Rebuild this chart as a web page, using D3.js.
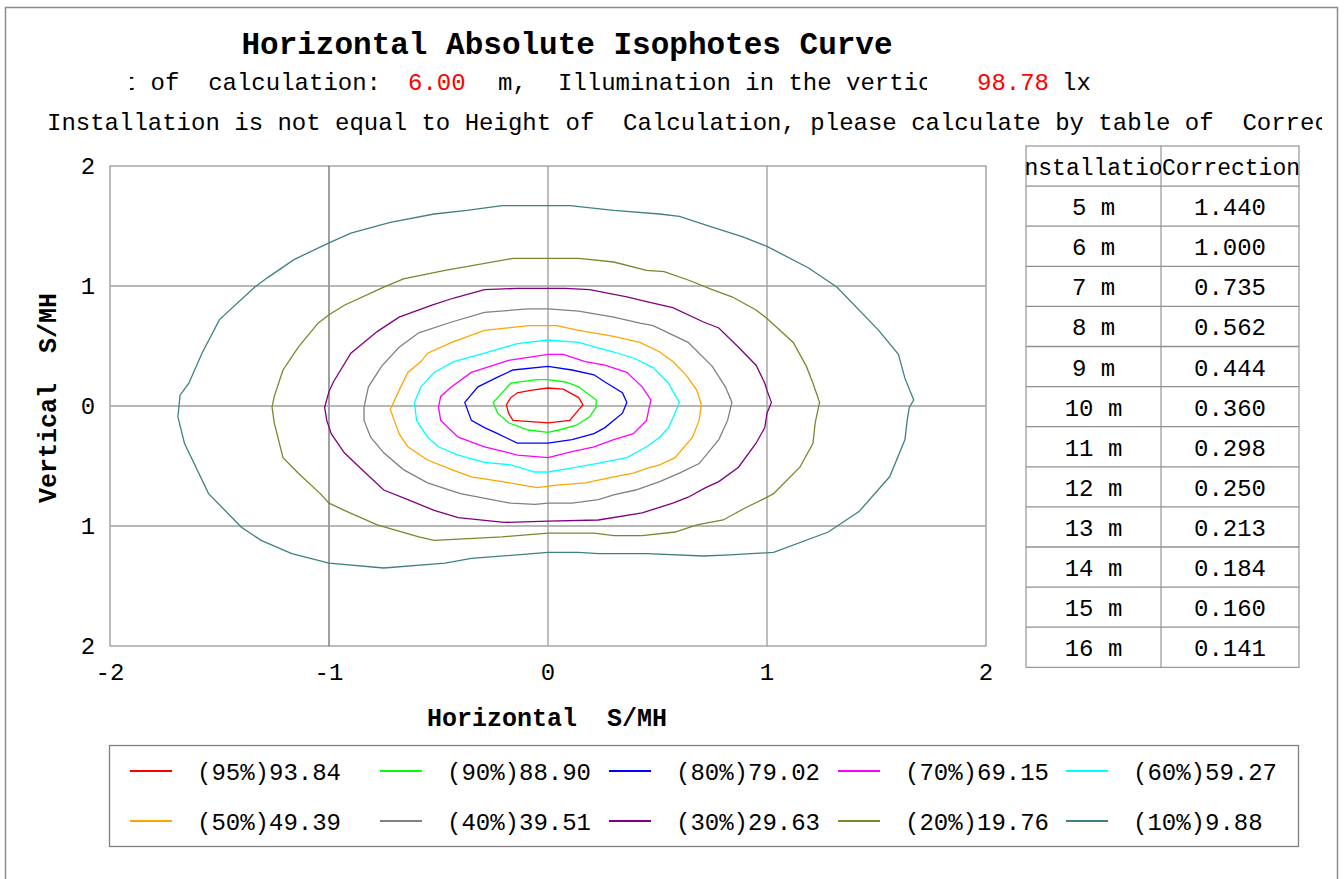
<html>
<head>
<meta charset="utf-8">
<title>Horizontal Absolute Isophotes Curve</title>
<script src="https://cdn.jsdelivr.net/npm/d3@7"></script>
<style>
  * { margin: 0; padding: 0; }
  body { background: #fff; }
  text { font-family: "Liberation Mono", "DejaVu Sans Mono", monospace; fill: #000; }
</style>
</head>
<body>
<svg id="viz"></svg>
<script>
// ---- data ----
var levels = ["(95%)93.84", "(90%)88.90", "(80%)79.02", "(70%)69.15", "(60%)59.27",
              "(50%)49.39", "(40%)39.51", "(30%)29.63", "(20%)19.76", "(10%)9.88"];
var colors = ["#ff0000", "#00ff00", "#0000ff", "#ff00ff", "#00ffff",
              "#ffa500", "#808080", "#800080", "#748a2c", "#408080"];

// contour points [x, y] in S/MH units
var c95 = [[-0.19,0.01],[-0.17,0.07],[-0.14,0.11],[-0.08,0.13],[0,0.15],[0.07,0.14],[0.14,0.07],
  [0.16,0.01],[0.14,-0.03],[0.10,-0.12],[0,-0.14],[-0.08,-0.13],[-0.16,-0.12],[-0.18,-0.06]];
var c90 = [[-0.25,0.03],[-0.20,0.13],[-0.17,0.19],[-0.05,0.22],[0,0.22],[0.08,0.20],[0.14,0.16],
  [0.22,0.05],[0.22,-0.01],[0.19,-0.09],[0.13,-0.16],[0.05,-0.20],[0,-0.22],[-0.09,-0.20],
  [-0.18,-0.14],[-0.23,-0.06]];
var c80 = [[-0.38,0.03],[-0.32,0.16],[-0.23,0.24],[-0.16,0.30],[0,0.33],[0.11,0.30],[0.21,0.26],
  [0.26,0.20],[0.34,0.11],[0.36,0.03],[0.34,-0.06],[0.26,-0.18],[0.21,-0.23],[0.11,-0.28],
  [0,-0.31],[-0.14,-0.31],[-0.23,-0.23],[-0.29,-0.18],[-0.35,-0.12]];
var c70 = [[-0.50,-0.01],[-0.49,0.08],[-0.44,0.16],[-0.35,0.28],[-0.18,0.38],[0,0.43],[0.07,0.43],
  [0.17,0.37],[0.26,0.34],[0.36,0.28],[0.43,0.16],[0.47,0.05],[0.46,-0.03],[0.45,-0.12],
  [0.39,-0.23],[0.30,-0.28],[0.21,-0.34],[0.11,-0.38],[0,-0.43],[-0.14,-0.41],[-0.20,-0.38],
  [-0.29,-0.34],[-0.41,-0.26],[-0.49,-0.12]];
var c60 = [[-0.61,0.03],[-0.58,0.16],[-0.52,0.28],[-0.43,0.37],[-0.29,0.44],[-0.14,0.52],[0,0.55],
  [0.14,0.53],[0.30,0.45],[0.39,0.40],[0.48,0.32],[0.55,0.19],[0.60,0.03],[0.58,-0.06],
  [0.55,-0.18],[0.51,-0.26],[0.45,-0.34],[0.36,-0.43],[0.22,-0.48],[0.10,-0.52],[0,-0.55],
  [-0.06,-0.55],[-0.17,-0.49],[-0.29,-0.47],[-0.41,-0.41],[-0.50,-0.34],[-0.55,-0.26],[-0.60,-0.12]];
var c50 = [[-0.72,-0.03],[-0.68,0.13],[-0.64,0.28],[-0.58,0.37],[-0.55,0.44],[-0.44,0.53],
  [-0.29,0.63],[-0.09,0.67],[0.04,0.67],[0.14,0.63],[0.30,0.58],[0.42,0.53],[0.51,0.45],
  [0.57,0.37],[0.63,0.26],[0.68,0.13],[0.70,0.01],[0.69,-0.12],[0.66,-0.26],[0.58,-0.43],
  [0.51,-0.49],[0.45,-0.52],[0.39,-0.56],[0.30,-0.59],[0.17,-0.64],[0.04,-0.66],[-0.05,-0.68],
  [-0.21,-0.63],[-0.35,-0.59],[-0.44,-0.53],[-0.55,-0.45],[-0.64,-0.34],[-0.68,-0.23]];
var c40 = [[-0.84,-0.01],[-0.82,0.16],[-0.76,0.33],[-0.68,0.49],[-0.59,0.61],[-0.44,0.70],
  [-0.29,0.78],[-0.09,0.81],[0,0.81],[0.14,0.79],[0.30,0.74],[0.42,0.69],[0.48,0.67],
  [0.64,0.53],[0.75,0.33],[0.81,0.16],[0.84,0.03],[0.82,-0.12],[0.78,-0.28],[0.69,-0.48],
  [0.60,-0.56],[0.51,-0.63],[0.40,-0.70],[0.30,-0.74],[0.23,-0.78],[0.11,-0.81],[0,-0.81],
  [-0.06,-0.82],[-0.17,-0.81],[-0.40,-0.73],[-0.55,-0.64],[-0.66,-0.53],[-0.75,-0.39],
  [-0.81,-0.26],[-0.84,-0.12]];
var c30 = [[-1.02,-0.01],[-1.00,0.12],[-0.98,0.20],[-0.90,0.44],[-0.78,0.62],[-0.68,0.74],
  [-0.53,0.84],[-0.43,0.90],[-0.29,0.97],[-0.14,0.98],[0,0.98],[0.08,0.98],[0.19,0.97],
  [0.36,0.91],[0.45,0.87],[0.57,0.82],[0.71,0.70],[0.78,0.65],[0.87,0.49],[0.95,0.34],
  [0.99,0.19],[1.00,0.13],[1.02,0.03],[1.00,-0.06],[0.99,-0.18],[0.95,-0.31],[0.87,-0.51],
  [0.78,-0.63],[0.72,-0.68],[0.64,-0.76],[0.57,-0.81],[0.43,-0.89],[0.23,-0.95],[0,-0.96],
  [-0.20,-0.97],[-0.41,-0.93],[-0.52,-0.87],[-0.64,-0.78],[-0.75,-0.70],[-0.85,-0.53],
  [-0.93,-0.39],[-0.99,-0.23],[-1.01,-0.12]];
var c20 = [[-1.25,0.08],[-1.21,0.30],[-1.14,0.49],[-1.05,0.69],[-1.00,0.76],[-0.93,0.84],
  [-0.75,0.99],[-0.66,1.06],[-0.47,1.13],[-0.16,1.23],[0,1.23],[0.14,1.23],[0.30,1.20],
  [0.45,1.13],[0.53,1.12],[0.64,1.05],[0.75,0.97],[0.84,0.91],[0.95,0.80],[1.00,0.73],
  [1.12,0.53],[1.18,0.33],[1.21,0.19],[1.24,0.03],[1.22,-0.14],[1.21,-0.31],[1.15,-0.51],
  [1.03,-0.73],[1.00,-0.76],[0.90,-0.85],[0.80,-0.95],[0.68,-0.99],[0.58,-1.05],[0.43,-1.08],
  [0.30,-1.08],[0.21,-1.06],[0,-1.06],[-0.21,-1.09],[-0.52,-1.12],[-0.59,-1.09],[-0.78,-0.99],
  [-0.93,-0.87],[-1.00,-0.81],[-1.04,-0.73],[-1.14,-0.56],[-1.21,-0.43],[-1.25,-0.14],[-1.26,-0.01]];
var c10 = [[-1.69,-0.09],[-1.68,0.09],[-1.64,0.19],[-1.58,0.44],[-1.50,0.72],[-1.34,0.99],
  [-1.28,1.07],[-1.16,1.22],[-1.00,1.36],[-0.90,1.44],[-0.72,1.53],[-0.52,1.60],[-0.37,1.63],
  [-0.21,1.67],[0,1.67],[0.10,1.67],[0.30,1.63],[0.51,1.60],[0.60,1.58],[0.75,1.49],[0.89,1.41],
  [1.00,1.33],[1.19,1.15],[1.32,0.99],[1.51,0.63],[1.60,0.43],[1.63,0.23],[1.67,0.05],
  [1.65,-0.01],[1.64,-0.12],[1.63,-0.28],[1.56,-0.59],[1.42,-0.88],[1.28,-1.05],[1.03,-1.22],
  [0.83,-1.24],[0.71,-1.25],[0.45,-1.23],[0.23,-1.23],[0.14,-1.22],[0,-1.22],[-0.35,-1.27],
  [-0.47,-1.31],[-0.75,-1.35],[-1.00,-1.31],[-1.17,-1.23],[-1.31,-1.12],[-1.40,-1.01],
  [-1.55,-0.73],[-1.66,-0.31]];
var contours = [c95, c90, c80, c70, c60, c50, c40, c30, c20, c10];

var xTicks = [-2, -1, 0, 1, 2];
var yTicks = [2, 1, 0, -1, -2];

var heightsCol = ["5 m", "6 m", "7 m", "8 m", "9 m", "10 m", "11 m", "12 m", "13 m", "14 m", "15 m", "16 m"];
var corrections = ["1.440", "1.000", "0.735", "0.562", "0.444", "0.360", "0.298", "0.250", "0.213", "0.184", "0.160", "0.141"];

var calcHeight = "6.00";
var illum = "98.78";

// ---- drawing ----
var W = 1344, H = 879;
var svg = d3.select("#viz").attr("width", W).attr("height", H);
var defs = svg.append("defs");

function clip(id, x, y, w, h) {
    defs.append("clipPath").attr("id", id)
        .append("rect").attr("x", x).attr("y", y).attr("width", w).attr("height", h);
    return "url(#" + id + ")";
}

// outer frame
svg.append("rect").attr("x", 5.5).attr("y", 7.5).attr("width", 1332).attr("height", 900)
    .style("fill", "none").style("stroke", "#8c8c8c").style("stroke-width", 1.5);

// titles
svg.append("text").attr("x", 567).attr("y", 54).attr("text-anchor", "middle")
    .style("font-size", "31px").style("font-weight", "bold")
    .text("Horizontal Absolute Isophotes Curve");

var l2 = svg.append("g").style("font-size", "24px");
l2.append("text").attr("x", 381).attr("y", 90).attr("text-anchor", "end")
    .attr("clip-path", clip("c1", 130, 60, 300, 40)).style("white-space", "pre")
    .text("Height of  calculation:");
l2.append("text").attr("x", 408).attr("y", 90).style("fill", "#ff0000").text(calcHeight);
l2.append("text").attr("x", 498).attr("y", 90).text("m,");
l2.append("text").attr("x", 558).attr("y", 90)
    .attr("clip-path", clip("c2", 550, 60, 377, 40))
    .text("Illumination in the vertical:");
l2.append("text").attr("x", 977).attr("y", 90).style("fill", "#ff0000").text(illum);
l2.append("text").attr("x", 1062).attr("y", 90).text("lx");

svg.append("text").attr("x", 47).attr("y", 130).style("font-size", "24px")
    .style("white-space", "pre")
    .attr("clip-path", clip("c3", 40, 100, 1282, 40))
    .text("Installation is not equal to Height of  Calculation, please calculate by table of  Correction");

// plot
var x = d3.scaleLinear().domain([-2, 2]).range([110, 986]);
var y = d3.scaleLinear().domain([-2, 2]).range([646, 166]);

var plot = svg.append("g");
plot.append("rect").attr("x", x(-2)).attr("y", y(2)).attr("width", x(2) - x(-2)).attr("height", y(-2) - y(2))
    .style("fill", "#fff").style("stroke", "#7a7a7a").style("stroke-width", 1);

plot.selectAll(".gx").data([-1, 0, 1]).enter().append("line")
    .attr("x1", d => x(d)).attr("x2", d => x(d)).attr("y1", y(2)).attr("y2", y(-2))
    .style("stroke", d => d == -1 ? "#6e6e6e" : "#9a9a9a").style("stroke-width", 1.3);
plot.selectAll(".gy").data([1, 0, -1]).enter().append("line")
    .attr("x1", x(-2)).attr("x2", x(2)).attr("y1", d => y(d)).attr("y2", d => y(d))
    .style("stroke", "#a0a0a0").style("stroke-width", 1.6);

var line = d3.line().x(p => x(p[0])).y(p => y(p[1])).curve(d3.curveLinearClosed);
plot.selectAll(".iso").data(contours).enter().append("path")
    .attr("d", d => line(d))
    .style("fill", "none")
    .style("stroke", (d, i) => colors[i])
    .style("stroke-width", 1.3);

// ticks
svg.selectAll(".xt").data(xTicks).enter().append("text")
    .attr("x", d => x(d)).attr("y", 680).attr("text-anchor", "middle")
    .style("font-size", "24px").text(d => d);
svg.selectAll(".yt").data(yTicks).enter().append("text")
    .attr("x", 88).attr("y", d => y(d) + 8).attr("text-anchor", "middle")
    .style("font-size", "24px").text(d => Math.abs(d));

svg.append("text").attr("x", 547).attr("y", 726).attr("text-anchor", "middle")
    .style("font-size", "25px").style("font-weight", "bold").style("white-space", "pre")
    .text("Horizontal  S/MH");
svg.append("text").attr("transform", "translate(56,398) rotate(-90)").attr("text-anchor", "middle")
    .style("font-size", "25px").style("font-weight", "bold").style("white-space", "pre")
    .text("Vertical  S/MH");

// correction table
var tx0 = 1026, tx1 = 1161, tx2 = 1299, ty0 = 146, rowH = 40.1;
var tbl = svg.append("g");
var nRows = heightsCol.length + 1;
tbl.append("rect").attr("x", tx0).attr("y", ty0).attr("width", tx2 - tx0).attr("height", nRows * rowH)
    .style("fill", "none").style("stroke", "#808080");
tbl.append("line").attr("x1", tx1).attr("x2", tx1).attr("y1", ty0).attr("y2", ty0 + nRows * rowH)
    .style("stroke", "#808080");
tbl.selectAll(".rl").data(d3.range(1, nRows)).enter().append("line")
    .attr("x1", tx0).attr("x2", tx2).attr("y1", d => ty0 + d * rowH).attr("y2", d => ty0 + d * rowH)
    .style("stroke", "#909090").style("stroke-width", 1.3);
tbl.append("text").attr("x", (tx0 + tx1) / 2).attr("y", ty0 + 29).attr("text-anchor", "middle")
    .attr("clip-path", clip("c4", tx0, ty0, tx1 - tx0, rowH)).style("font-size", "23px")
    .text("Installation");
tbl.append("text").attr("x", (tx1 + tx2) / 2 + 1).attr("y", ty0 + 29).attr("text-anchor", "middle")
    .attr("clip-path", clip("c5", tx1, ty0, tx2 - tx1 + 3, rowH)).style("font-size", "23px")
    .text("Correction");
tbl.selectAll(".h").data(heightsCol).enter().append("text")
    .attr("x", (tx0 + tx1) / 2).attr("y", (d, i) => ty0 + (i + 1) * rowH + 29)
    .attr("text-anchor", "middle").style("font-size", "24px").style("white-space", "pre")
    .text(d => d);
tbl.selectAll(".cv").data(corrections).enter().append("text")
    .attr("x", (tx1 + tx2) / 2).attr("y", (d, i) => ty0 + (i + 1) * rowH + 29)
    .attr("text-anchor", "middle").style("font-size", "24px").text(d => d);

// legend
var lg = svg.append("g");
lg.append("rect").attr("x", 109.5).attr("y", 745.5).attr("width", 1189).attr("height", 101)
    .style("fill", "#fff").style("stroke", "#808080").style("stroke-width", 1.3);
var colX = [130, 380, 609, 838, 1066];
var rowY = [771, 821];
var items = lg.selectAll(".li").data(levels).enter().append("g")
    .attr("transform", (d, i) => "translate(" + colX[i % 5] + "," + rowY[Math.floor(i / 5)] + ")");
items.append("line").attr("x1", 0).attr("x2", 42).attr("y1", 0).attr("y2", 0)
    .style("stroke", (d, i) => colors[i]).style("stroke-width", 2);
items.append("text").attr("x", 67).attr("y", 9).style("font-size", "24px").text(d => d);
</script>
</body>
</html>
